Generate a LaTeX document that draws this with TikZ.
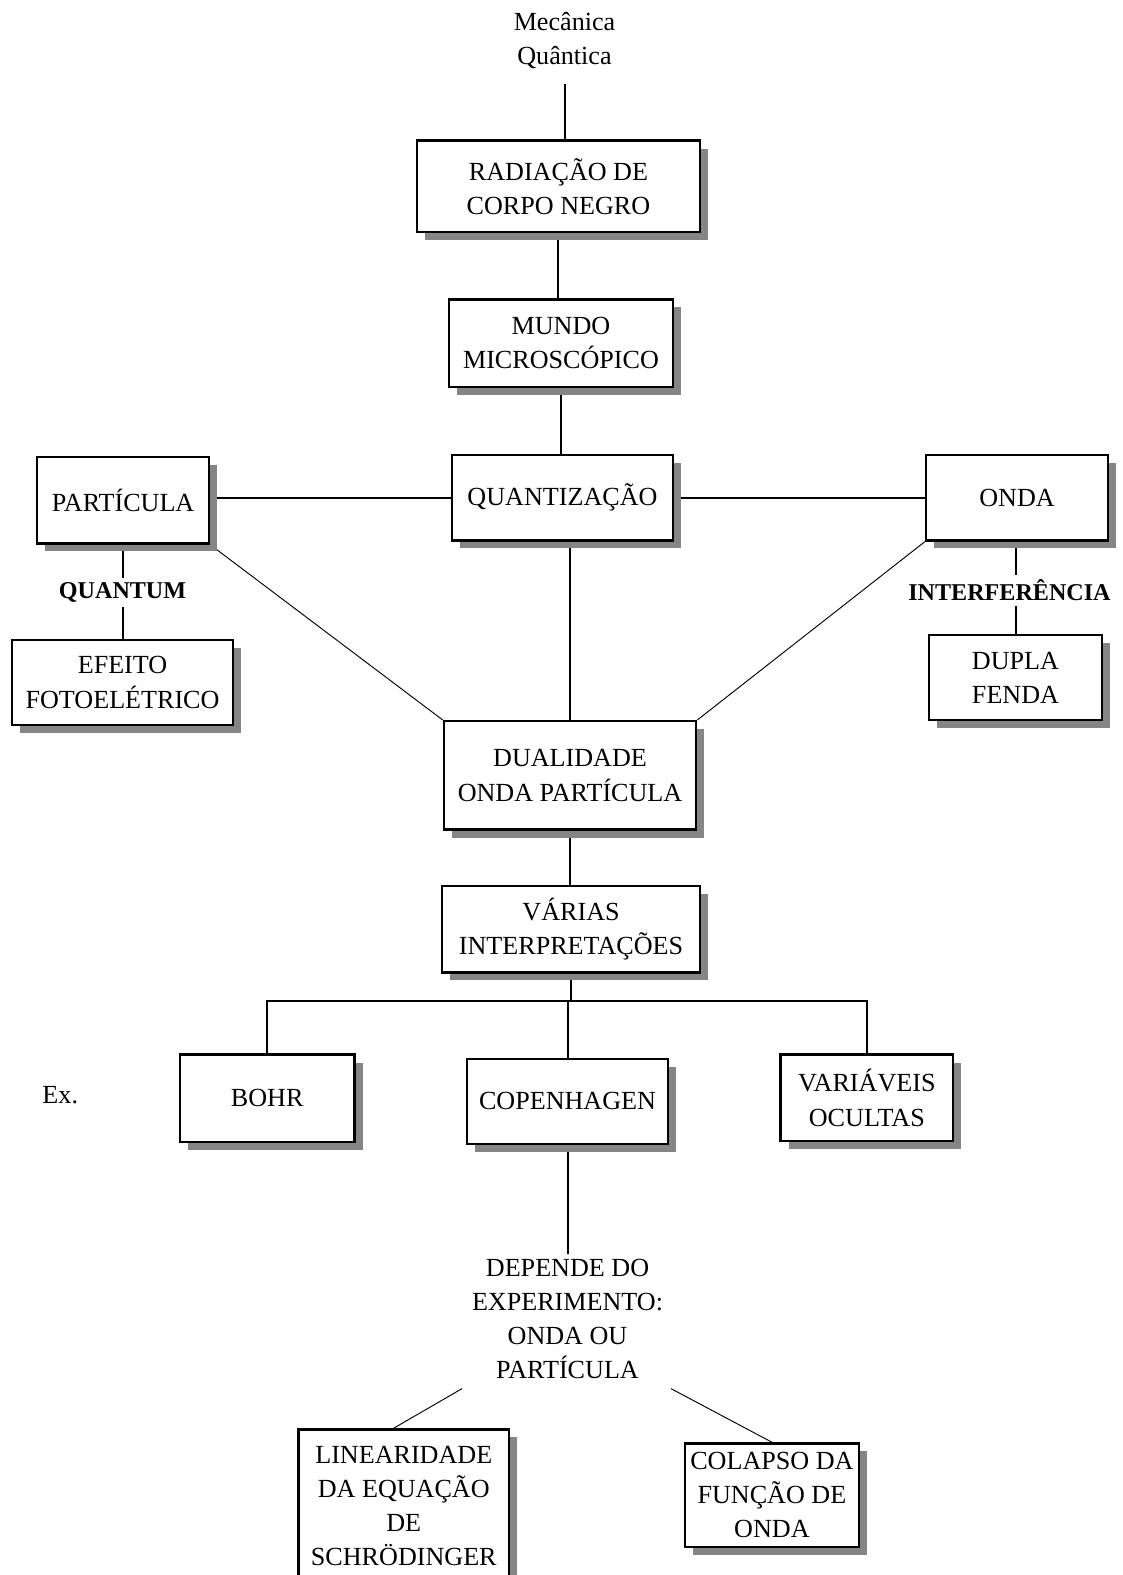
\documentclass[tikz,border=0pt]{standalone}
\usepackage{fontspec}
\setmainfont{Liberation Serif}
\usetikzlibrary{shadows,calc,backgrounds}

% (name, x_left, y_top, x_right, y_bottom, text)
\newcommand{\kasten}[6]{
    \node[kasten, minimum width={(#4-#2)*0.75pt}, minimum height={(#5-#3)*0.75pt}]
      (#1) at ({(#2+#4)/2}, {(#3+#5)/2}) {#6};
}

\begin{document}
\begin{tikzpicture}[x=0.75pt, y=-0.75pt,
  font=\fontsize{19.5}{25.5}\selectfont,
  kasten/.style={draw, line width=1.8pt, fill=white, inner sep=0pt, align=center,
    drop shadow={shadow xshift=6pt, shadow yshift=-6pt, fill=black!48, opacity=1}},
  marke/.style={font=\fontsize{18}{22}\selectfont\bfseries},
  linie/.style={line width=1.5pt},
  duenn/.style={line width=0.7pt}]

  \useasboundingbox (0,0) rectangle (1118,1568);

  \node[align=center] (titel) at (562,40) {Mecânica\\Quântica};

  \kasten{radiacao}{415}{140}{697}{231}{RADIAÇÃO DE\\CORPO NEGRO}
  \kasten{mundo}{447}{298}{670}{385}{MUNDO\\MICROSCÓPICO}
  \kasten{quant}{450}{453}{670}{538}{QUANTIZAÇÃO}
  \kasten{particula}{37}{455}{208}{541}{PARTÍCULA}
  \kasten{onda}{922}{453}{1103}{538}{ONDA}
  \kasten{efeito}{12}{637}{232}{722}{EFEITO\\FOTOELÉTRICO}
  \kasten{fenda}{925}{632}{1097}{717}{DUPLA\\FENDA}
  \kasten{dual}{442}{718}{693}{826}{DUALIDADE\\ONDA PARTÍCULA}
  \kasten{varias}{440}{882}{697}{968}{VÁRIAS\\INTERPRETAÇÕES}
  \kasten{bohr}{179}{1050}{353}{1137}{BOHR}
  \kasten{copen}{465}{1054}{665}{1139}{COPENHAGEN}
  \kasten{ocultas}{777}{1050}{949}{1136}{VARIÁVEIS\\OCULTAS}
  \kasten{linear}{297}{1423}{507}{1576}{LINEARIDADE\\DA EQUAÇÃO\\DE\\SCHRÖDINGER}
  \kasten{colapso}{682}{1437}{855}{1540}{COLAPSO DA\\FUNÇÃO DE\\ONDA}

  \node[marke] (quantum) at (122,590) {QUANTUM};
  \node[marke] (interf) at (1005,588) {INTERFERÊNCIA};
  \node (ex) at (60,1090) {Ex.};
  \node[align=center] (depende) at (565,1313) {DEPENDE DO\\EXPERIMENTO:\\ONDA OU\\PARTÍCULA};

  \coordinate (gabel) at (569,997);

  \begin{scope}[on background layer]
    \draw[linie, shorten <=8pt] (titel.south) -- (titel.south |- radiacao.north);
    \draw[linie] (radiacao.south) -- (radiacao.south |- mundo.north);
    \draw[linie] (mundo.south) -- (mundo.south |- quant.north);
    \draw[linie] (quant.west) -- (quant.west -| particula.east);
    \draw[linie] (quant.east) -- (quant.east -| onda.west);
    \draw[linie] (particula.south) -- (particula.south |- quantum.north);
    \draw[linie] (particula.south |- quantum.south) -- (particula.south |- efeito.north);
    \draw[linie] (fenda.north |- onda.south) -- (fenda.north |- interf.north);
    \draw[linie] (fenda.north |- interf.south) -- (fenda.north);
    \draw[duenn] (particula.south east) -- (dual.north west);
    \draw[duenn] (onda.south west) -- (dual.north east);
    \draw[line width=2pt] (dual.north) -- (dual.north |- quant.south);
    \draw[linie] (dual.south) -- (dual.south |- varias.north);
    \draw[linie] (varias.south) -- (varias.south |- gabel);
    \draw[linie] (bohr.north) |- (gabel) -| (ocultas.north);
    \draw[linie] (copen.north) -- (copen.north |- gabel);
    \draw[linie] (copen.south) -- (depende.north);
    \draw[duenn] ($(depende.south)+(-105,5)$) -- ($(linear.north)+(-10,0)$);
    \draw[duenn] ($(depende.south)+(103,5)$) -- (colapso.north);
  \end{scope}

\end{tikzpicture}
\end{document}
